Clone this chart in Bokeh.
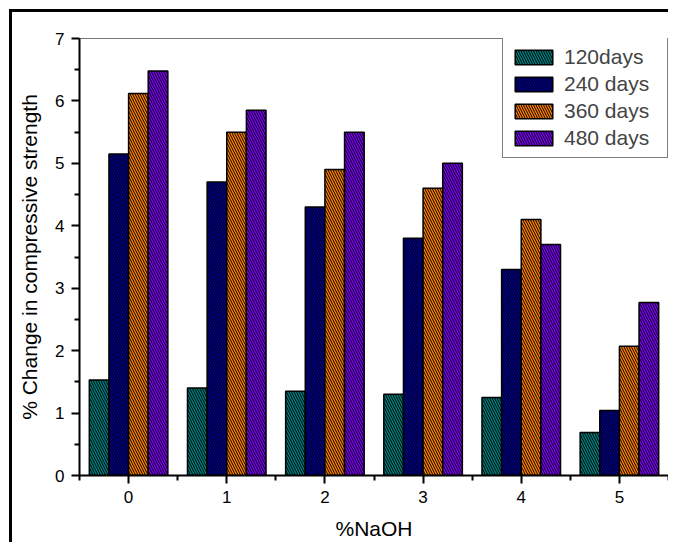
from bokeh.plotting import figure
from bokeh.models import ColumnDataSource, FixedTicker, Range1d, Legend, LegendItem
from bokeh.transform import dodge
from bokeh.embed import file_html
from bokeh.resources import INLINE

naoh = [0, 1, 2, 3, 4, 5]
d120 = [1.53, 1.40, 1.35, 1.30, 1.25, 0.69]
d240 = [5.15, 4.70, 4.30, 3.80, 3.30, 1.04]
d360 = [6.12, 5.50, 4.90, 4.60, 4.10, 2.07]
d480 = [6.48, 5.85, 5.50, 5.00, 3.70, 2.77]
series_names = ["120days", "240 days", "360 days", "480 days"]
series_keys = ["d120", "d240", "d360", "d480"]
colors = ["#008080", "#000099", "#FF8000", "#8000FF"]
offsets = [-0.3, -0.1, 0.1, 0.3]

src = ColumnDataSource(dict(x=naoh, d120=d120, d240=d240, d360=d360, d480=d480))

FONT = "Liberation Sans"

p = figure(width=659, height=533, output_backend="svg", toolbar_location=None,
           x_range=Range1d(-0.5, 5.5), y_range=Range1d(0, 7),
           min_border_left=67, min_border_top=26, min_border_right=3, min_border_bottom=70,
           styles={"border-left": "3px solid black", "border-top": "3px solid black",
                   "margin-left": "9px", "margin-top": "9px"})
p.grid.visible = False
p.outline_line_color = "#777777"
p.outline_line_width = 1
p.background_fill_color = "white"
p.border_fill_color = "white"

renderers = []
for key, col, off in zip(series_keys, colors, offsets):
    r = p.vbar(x=dodge("x", off), top=key, width=0.2, bottom=0, source=src,
               fill_color=col, line_color="black", line_width=1.5,
               hatch_pattern="\\", hatch_color="black", hatch_scale=5, hatch_weight=1)
    renderers.append(r)

legend = Legend(items=[LegendItem(label=n, renderers=[r]) for n, r in zip(series_names, renderers)],
                location=(423, 317), glyph_width=47, glyph_height=18, label_standoff=7,
                label_width=96, label_height=24,
                spacing=3, padding=7, margin=0,
                label_text_font=FONT, label_text_font_size="21px",
                border_line_color="black", border_line_width=1,
                background_fill_alpha=1.0)
p.add_layout(legend, "center")

p.xaxis.ticker = FixedTicker(ticks=naoh, minor_ticks=[-0.5, 0.5, 1.5, 2.5, 3.5, 4.5, 5.5])
p.yaxis.ticker = FixedTicker(ticks=[0, 1, 2, 3, 4, 5, 6, 7],
                             minor_ticks=[0.5, 1.5, 2.5, 3.5, 4.5, 5.5, 6.5])

for ax in (p.xaxis[0], p.yaxis[0]):
    ax.axis_line_color = "black"
    ax.axis_line_width = 2
    ax.major_tick_line_color = "black"
    ax.major_tick_line_width = 2
    ax.minor_tick_line_color = "black"
    ax.minor_tick_line_width = 2
    ax.major_tick_out = 8
    ax.major_tick_in = 0
    ax.minor_tick_out = 5
    ax.minor_tick_in = 0
    ax.major_label_text_font = FONT
    ax.major_label_text_font_size = "17px"
    ax.major_label_text_color = "black"
    ax.axis_label_text_font = FONT
    ax.axis_label_text_font_size = "21px"
    ax.axis_label_text_font_style = "normal"
    ax.axis_label_text_color = "black"

p.xaxis.axis_label = "%NaOH"
p.yaxis.axis_label = "% Change in compressive strength"
p.xaxis.major_label_standoff = 7
p.xaxis.axis_label_standoff = 11
p.yaxis.major_label_standoff = 7
p.yaxis.axis_label_standoff = 11

open("out.html", "w").write(file_html(p, INLINE))
